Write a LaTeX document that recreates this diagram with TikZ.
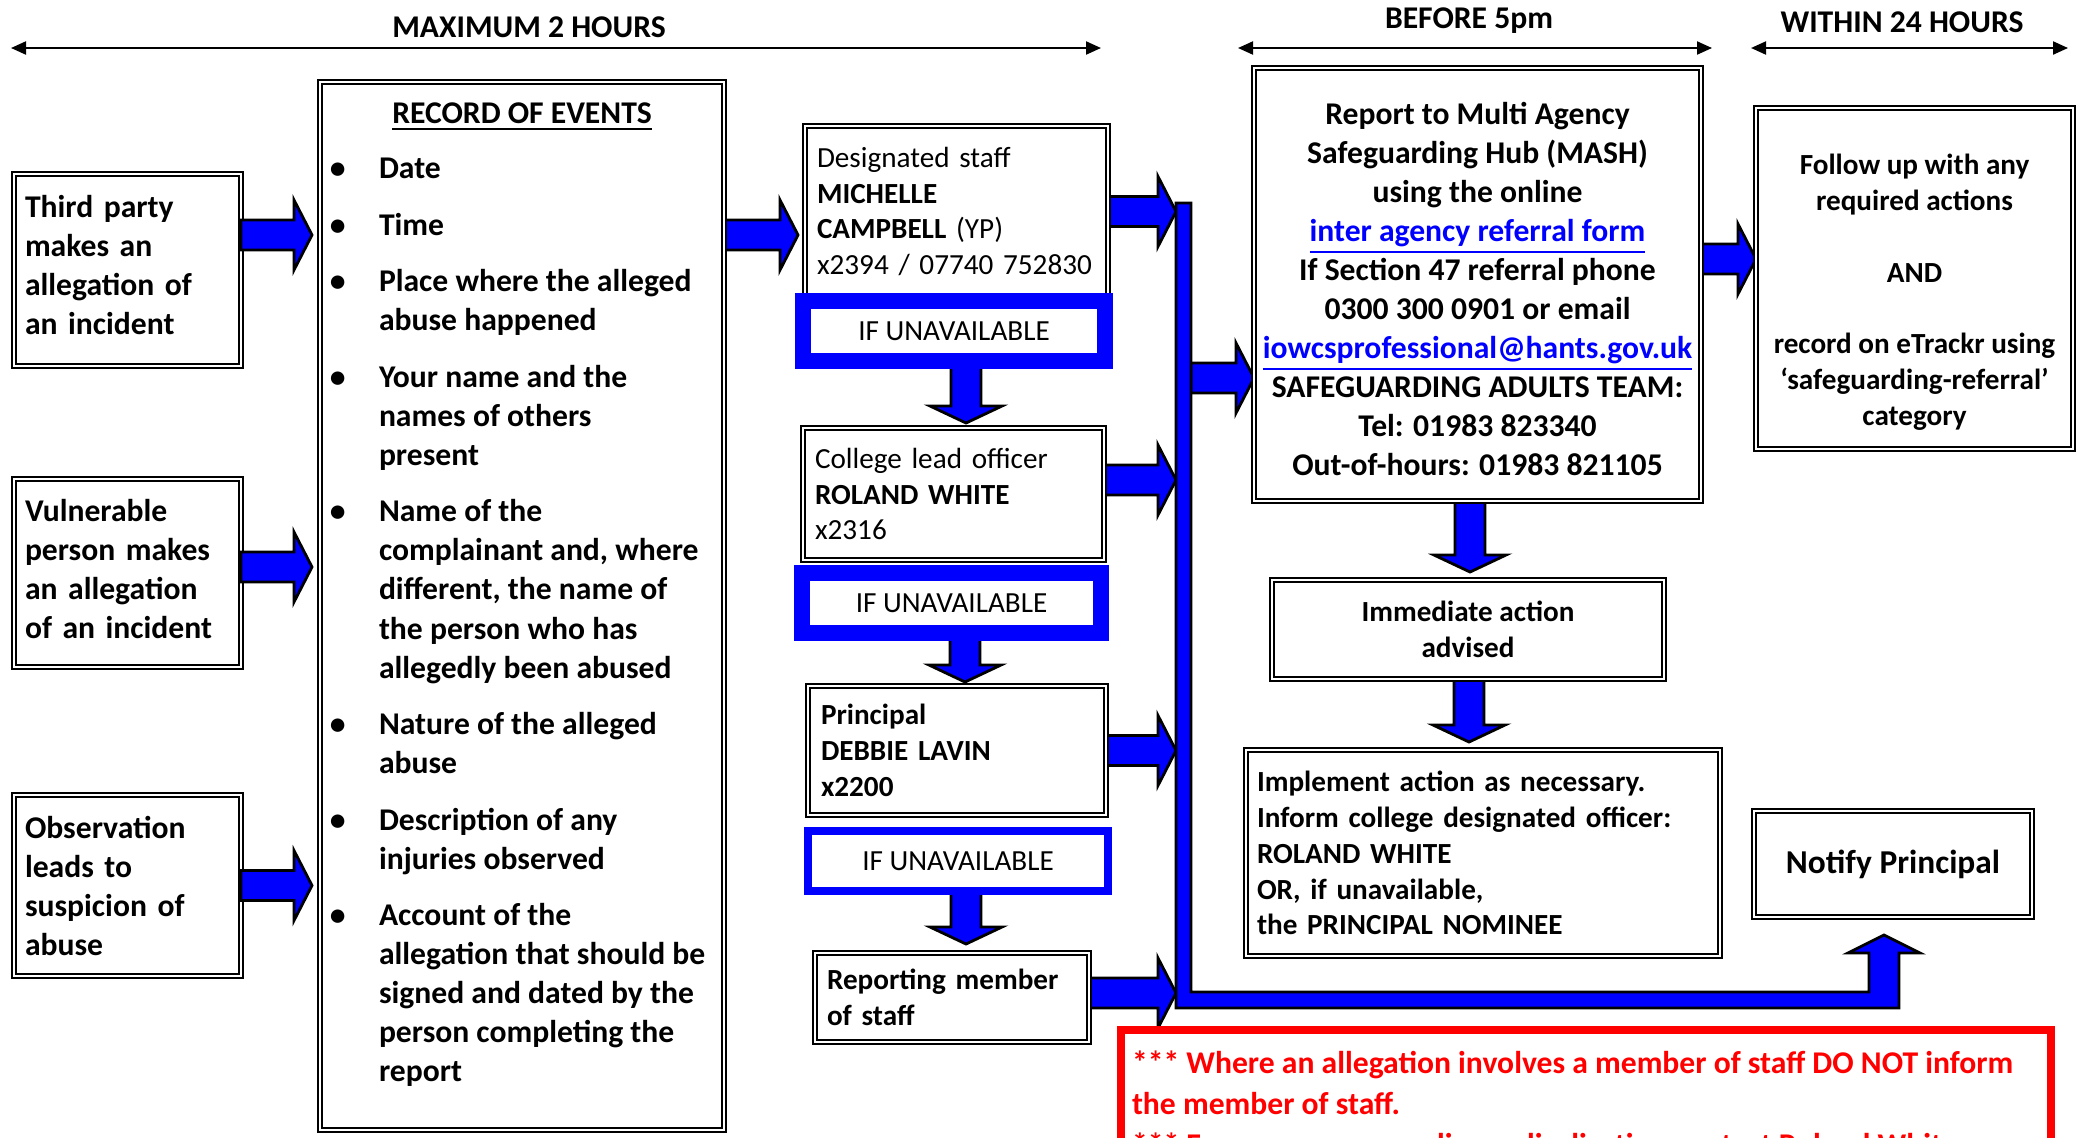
\documentclass[tikz,border=0pt]{standalone}
\usepackage{fontspec}
\setmainfont{Carlito}
\usetikzlibrary{calc,arrows.meta}

\newcommand{\fbig}{\fontsize{9}{11.1}\selectfont\bfseries}
\newcommand{\fsmall}{\fontsize{8.3}{10.2}\selectfont}

\tikzset{
	box/.style={draw=black, double=white, line width=0.55pt, double distance=0.55pt, fill=white, inner sep=0pt, outer sep=0pt},
	unav/.style={draw=blue, fill=white, line width=#1, inner sep=0pt, outer sep=0pt, minimum height=6mm, font=\fsmall},
	blockarrow/.style={draw=black, fill=blue, line width=0.8pt, line join=miter},
	timeline/.style={{Triangle[length=1.5mm,width=1.3mm]}-{Triangle[length=1.5mm,width=1.3mm]}, line width=0.6pt},
	lbl/.style={font=\fbig, anchor=base, inner sep=0pt},
}

% block arrows: tail point, tip point
\newcommand{\blockright}[2]{%
	\draw[blockarrow] let \p1=(#1), \p2=(#2) in
	(\x1,\y1+1.5mm) -- (\x2-1.8mm,\y1+1.5mm) -- (\x2-1.8mm,\y1+3.5mm) -- (\x2,\y1)
	-- (\x2-1.8mm,\y1-3.5mm) -- (\x2-1.8mm,\y1-1.5mm) -- (\x1,\y1-1.5mm) -- cycle;}
\newcommand{\blockdown}[2]{%
	\draw[blockarrow] let \p1=(#1), \p2=(#2) in
	(\x1-1.5mm,\y1) -- (\x1-1.5mm,\y2+1.7mm) -- (\x1-3.6mm,\y2+1.7mm) -- (\x1,\y2)
	-- (\x1+3.6mm,\y2+1.7mm) -- (\x1+1.5mm,\y2+1.7mm) -- (\x1+1.5mm,\y1) -- cycle;}
% struts to shift a centred text block
\newcommand{\padabove}[1]{\rule{0pt}{#1}}
\newcommand{\padbelow}[1]{\rule[-#1]{0pt}{#1}}

\begin{document}
\begin{tikzpicture}[x=1mm,y=-1mm]
	\clip (0,0) rectangle (208,113.7);
	\fill[white] (0,0) rectangle (208,113.7);

	% time spans
	\node[lbl] (maxlbl) at (52.9,3.7) {MAXIMUM 2 HOURS};
	\coordinate (maxa) at (1.1,4.8);
	\coordinate (maxb) at (110.1,4.8);
	\draw[timeline] (maxa) -- (maxb);
	\node[lbl] (beflbl) at (146.9,2.8) {BEFORE 5pm};
	\coordinate (befa) at (123.8,4.8);
	\coordinate (befb) at (171.2,4.8);
	\draw[timeline] (befa) -- (befb);
	\node[lbl] (withlbl) at (190.2,3.2) {WITHIN 24 HOURS};
	\coordinate (witha) at (175.1,4.8);
	\coordinate (withb) at (206.8,4.8);
	\draw[timeline] (witha) -- (withb);

	% left column
	\path (12.75,27.0) node[box, minimum width=22.7mm, minimum height=19.2mm, text width=20.5mm, align=left, font=\fbig] (third) {Third party\\makes an\\allegation of\\an incident\padbelow{1mm}};
	\path (12.75,57.3) node[box, minimum width=22.7mm, minimum height=18.8mm, text width=20.5mm, align=left, font=\fbig] (vuln) {Vulnerable\\person makes\\an allegation\\of an incident\padbelow{0.8mm}};
	\path (12.75,88.55) node[box, minimum width=22.7mm, minimum height=18.1mm, text width=20.5mm, align=left, font=\fbig] (obs) {Observation\\leads to\\suspicion of\\abuse};
	\path (52.2,60.6) coordinate (recordc);
	\path (95.65,21.15) coordinate (desigc);
	\path (95.35,49.4) coordinate (collegec);
	\path (95.7,75.05) coordinate (principalc);
	\path (95.2,99.75) coordinate (reportingc);
	\path (147.75,28.45) coordinate (mashc);
	\path (191.45,27.85) coordinate (followc);
	\path (146.8,62.95) coordinate (immedc);
	\path (148.3,85.3) coordinate (implc);
	\path (189.3,86.4) coordinate (notifyc);
	\coordinate (bustop) at (117.6,20.3);
	\coordinate (busfoot) at (117.6,100.8);

	% outlines of the boxes, for the arrow ends
	\node[minimum width=40.4mm, minimum height=104.8mm, inner sep=0pt, outer sep=0pt] (record) at (recordc) {};
	\node[minimum width=30.3mm, minimum height=17.1mm, inner sep=0pt, outer sep=0pt] (desig) at (desigc) {};
	\node[minimum width=30.1mm, minimum height=13.2mm, inner sep=0pt, outer sep=0pt] (college) at (collegec) {};
	\node[minimum width=29.8mm, minimum height=12.9mm, inner sep=0pt, outer sep=0pt] (principal) at (principalc) {};
	\node[minimum width=27.4mm, minimum height=8.9mm, inner sep=0pt, outer sep=0pt] (reporting) at (reportingc) {};
	\node[minimum width=44.7mm, minimum height=43.3mm, inner sep=0pt, outer sep=0pt] (mash) at (mashc) {};
	\node[minimum width=31.7mm, minimum height=34.1mm, inner sep=0pt, outer sep=0pt] (follow) at (followc) {};
	\node[minimum width=39.2mm, minimum height=9.9mm, inner sep=0pt, outer sep=0pt] (immed) at (immedc) {};
	\node[minimum width=47.4mm, minimum height=20.6mm, inner sep=0pt, outer sep=0pt] (impl) at (implc) {};
	\node[minimum width=27.8mm, minimum height=10.6mm, inner sep=0pt, outer sep=0pt] (notify) at (notifyc) {};
	\node[minimum width=30.2mm, minimum height=6mm, inner sep=0pt, outer sep=0pt] (unav1) at (95.4,33.1) {};
	\node[minimum width=29.9mm, minimum height=6mm, inner sep=0pt, outer sep=0pt] (unav2) at (95.15,60.3) {};
	\node[minimum width=30.0mm, minimum height=6mm, inner sep=0pt, outer sep=0pt] (unav3) at (95.8,86.1) {};

	% arrows
	\blockright{$(third.east)+(0,-3.5)$}{$(record.west)+(-0.8,0)$}
	\blockright{$(vuln.east)+(0,-0.6)$}{$(record.west)+(-0.8,0)$}
	\blockright{obs.east}{$(record.west)+(-0.8,0)$}
	\blockright{$(record.east)+(0,-37.1)$}{$(desig.west)+(-0.7,0)$}
	\blockright{desig.east}{bustop}
	\blockright{$(college.east)+(0,-1.4)$}{bustop}
	\blockright{principal.east}{bustop}
	\blockright{$(reporting.east)+(0,-0.45)$}{bustop}
	\blockright{$(bustop)+(1.5,17.5)$}{mash.west}
	\blockright{$(mash.east)+(0,-2.55)$}{follow.west}
	\blockdown{$(unav1.south)+(1.2,0)$}{$(college.north)+(0,-0.5)$}
	\blockdown{$(unav2.south)+(1.35,0)$}{$(principal.north)+(0,-0.4)$}
	\blockdown{$(unav3.south)+(0.8,0)$}{$(reporting.north)+(0,-0.9)$}
	\blockdown{$(mash.south)+(-0.75,0)$}{$(immed.north)+(0,-0.8)$}
	\blockdown{$(immed.south)+(0.1,0)$}{$(impl.north)+(0,-0.8)$}
	\draw[blockarrow] let \p1=(bustop), \p2=(busfoot), \p3=($(notify.south)+(-0.9,0)$) in
		(\x1,\y1) -- (\x1+1.5mm,\y1) -- (\x1+1.5mm,\y2+1.6mm) -- (\x3-1.5mm,\y2+1.6mm)
		-- (\x3-1.5mm,\y3-3.6mm) -- (\x3-3.6mm,\y3-3.6mm) -- (\x3,\y3-1.8mm)
		-- (\x3+3.6mm,\y3-3.6mm) -- (\x3+1.5mm,\y3-3.6mm) -- (\x3+1.5mm,\y2) -- (\x1,\y2) -- cycle;

	% visible boxes
	\node[box, minimum width=40.4mm, minimum height=104.8mm, font=\fbig] (recordbox) at (recordc) {\parbox[c][104.8mm][t]{40.4mm}{%
		\vspace*{2.1mm}{\centering\underline{RECORD OF EVENTS}\par}\vspace{4.5pt}\raggedright
		\begin{list}{\textbullet}{\setlength{\leftmargin}{5.9mm}\setlength{\labelwidth}{2.55mm}\setlength{\labelsep}{3.35mm}%
			\setlength{\itemsep}{5.0pt}\setlength{\parsep}{0pt}\setlength{\topsep}{0pt}\setlength{\partopsep}{0pt}\setlength{\rightmargin}{0pt}}
		\item Date
		\item Time
		\item Place where the alleged\\abuse happened
		\item Your name and the\\names of others\\present
		\item Name of the\\complainant and, where\\different, the name of\\the person who has\\allegedly been abused
		\item Nature of the alleged\\abuse
		\item Description of any\\injuries observed
		\item Account of the\\allegation that should be\\signed and dated by the\\person completing the\\report
		\end{list}}};
	\node[box, minimum width=30.3mm, minimum height=17.1mm, text width=27.9mm, align=left, font=\fsmall] (desigbox) at (desigc) {Designated staff\\\textbf{MICHELLE}\\\textbf{CAMPBELL} (YP)\\x2394 / 07740 752830};
	\node[unav=1.6mm, minimum width=30.2mm] (unavbox1) at (unav1) {IF UNAVAILABLE};
	\node[box, minimum width=30.1mm, minimum height=13.2mm, text width=27.7mm, align=left, font=\fsmall] (collegebox) at (collegec) {College lead officer\\\textbf{ROLAND WHITE}\\x2316};
	\node[unav=1.6mm, minimum width=29.9mm] (unavbox2) at (unav2) {IF UNAVAILABLE};
	\node[box, minimum width=29.8mm, minimum height=12.9mm, text width=27.2mm, align=left, font=\fsmall\bfseries] (principalbox) at (principalc) {Principal\\DEBBIE LAVIN\\x2200};
	\node[unav=0.8mm, minimum width=30.0mm] (unavbox3) at (unav3) {IF UNAVAILABLE};
	\node[box, minimum width=27.4mm, minimum height=8.9mm, text width=25.0mm, align=left, font=\fsmall\bfseries] (reportingbox) at (reportingc) {Reporting member\\of staff};
	\node[box, minimum width=44.7mm, minimum height=43.3mm, align=center, font=\fbig] (mashbox) at (mashc) {\padabove{3.2mm}Report to Multi Agency\\Safeguarding Hub (MASH)\\using the online\\\textcolor{blue}{\underline{inter agency referral form}}\\If Section 47 referral phone\\0300 300 0901 or email\\\textcolor{blue}{\underline{iowcsprofessional@hants.gov.uk}}\\SAFEGUARDING ADULTS TEAM:\\Tel: 01983 823340\\Out-of-hours: 01983 821105};
	\node[box, minimum width=31.7mm, minimum height=34.1mm, align=center, font=\fsmall\bfseries] (followbox) at (followc) {\padabove{4.8mm}Follow up with any\\required actions\\[10.2pt]AND\\[10.2pt]record on eTrackr using\\‘safeguarding-referral’\\category};
	\node[box, minimum width=39.2mm, minimum height=9.9mm, align=center, font=\fsmall\bfseries] (immedbox) at (immedc) {Immediate action\\advised};
	\node[box, minimum width=47.4mm, minimum height=20.6mm, text width=45.2mm, align=left, font=\fsmall\bfseries] (implbox) at (implc) {Implement action as necessary.\\Inform college designated officer:\\ROLAND WHITE\\OR, if unavailable,\\the PRINCIPAL NOMINEE};
	\node[box, minimum width=27.8mm, minimum height=10.6mm, align=center, font=\fontsize{9.5}{11}\selectfont\bfseries] (notifybox) at (notifyc) {Notify Principal};

	% warning
	\node[draw=red, line width=0.8mm, fill=white, anchor=north west, outer sep=0pt, inner xsep=1.1mm, inner ysep=2.1mm, text=red, font=\fontsize{9}{11.7}\selectfont\bfseries] (warn) at (112.1,103.0) {\parbox[t]{90.8mm}{\mbox{*** Where an allegation involves a member of staff DO NOT inform}\\\mbox{the member of staff.}\\\mbox{*** For concerns regarding radicalisation contact Roland White}}};
\end{tikzpicture}
\end{document}
